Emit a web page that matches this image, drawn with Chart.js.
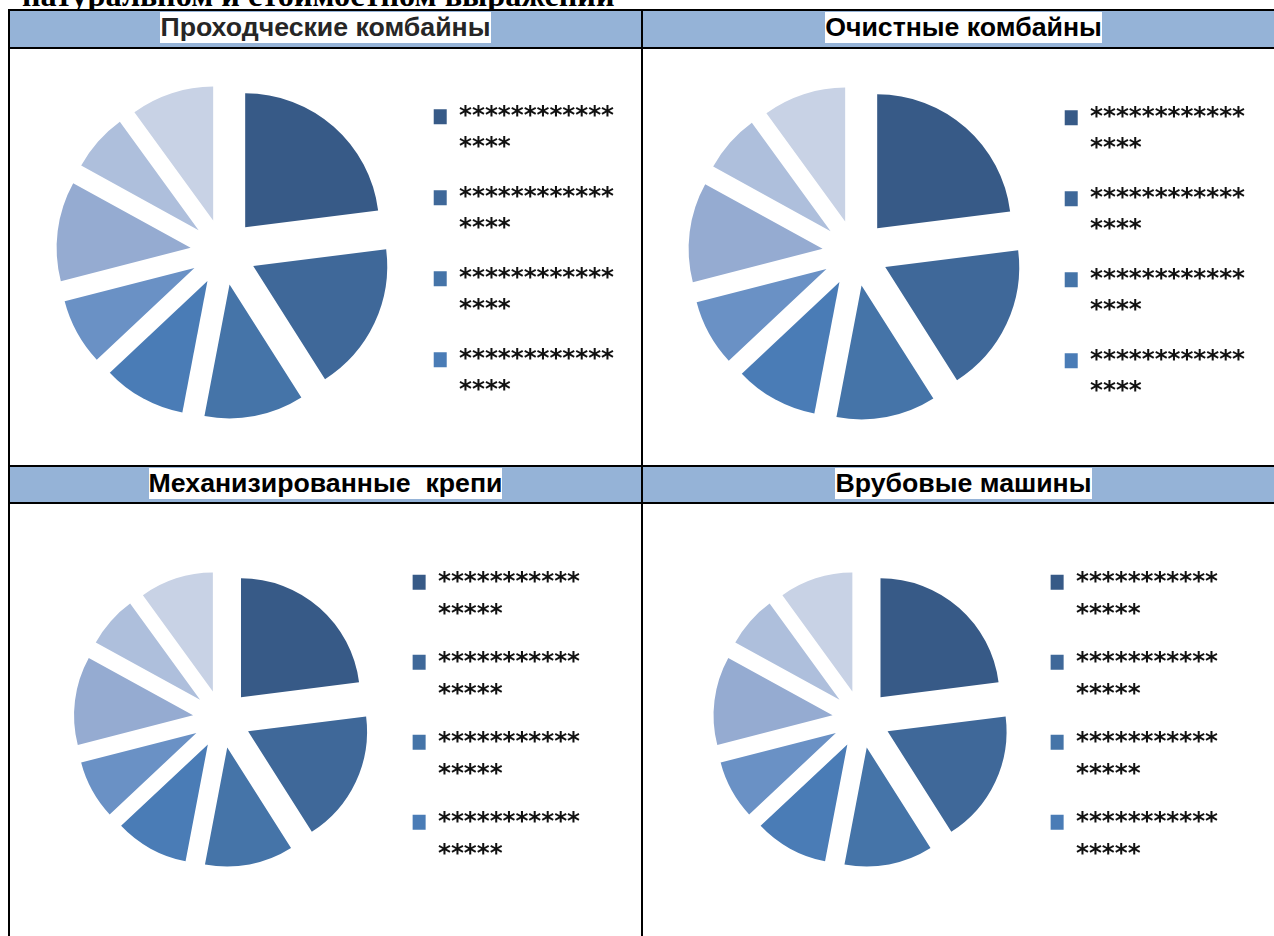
<!DOCTYPE html>
<html><head><meta charset="utf-8">
<script src="https://cdn.jsdelivr.net/npm/chart.js@4.4.1/dist/chart.umd.min.js"></script>
<style>
html,body{margin:0;padding:0;background:#fff;width:1274px;height:936px;overflow:hidden;position:relative;}
.line{position:absolute;background:#000;}
.hdr{position:absolute;background:#95B3D7;display:flex;align-items:center;justify-content:center;box-sizing:border-box;padding-bottom:3px;}
.hdr span{font:bold 26.7px "Liberation Sans",Arial,sans-serif;background:#fff;color:#000;white-space:pre;}
.toptext{position:absolute;left:22px;top:-21px;font:bold 32.3px "Liberation Serif","Times New Roman",serif;line-height:32px;white-space:nowrap;color:#000;}
.cv{position:absolute;}
</style></head><body>
<div class="toptext">натуральном и стоимостном выражении</div>

<div class="hdr" style="left:10px;top:11px;width:631px;height:36px;"><span style="color:#262626">Проходческие комбайны</span></div>
<div class="hdr" style="left:643px;top:11px;width:641px;height:36px;"><span>Очистные комбайны</span></div>
<div class="hdr" style="left:10px;top:467px;width:631px;height:35px;"><span>Механизированные  крепи</span></div>
<div class="hdr" style="left:643px;top:467px;width:641px;height:35px;"><span>Врубовые машины</span></div>

<div class="line" style="left:8px;top:9px;width:1290px;height:2px;"></div>
<div class="line" style="left:8px;top:47px;width:1290px;height:2px;"></div>
<div class="line" style="left:8px;top:465px;width:1290px;height:2px;"></div>
<div class="line" style="left:8px;top:502px;width:1290px;height:2px;"></div>
<div class="line" style="left:8px;top:9px;width:2px;height:940px;"></div>
<div class="line" style="left:641px;top:9px;width:2px;height:940px;"></div>

<canvas id="c1" class="cv" width="614" height="406" style="left:10px;top:49px;"></canvas>
<canvas id="c2" class="cv" width="612" height="408" style="left:643px;top:49px;"></canvas>
<canvas id="c3" class="cv" width="580" height="430" style="left:10px;top:504px;"></canvas>
<canvas id="c4" class="cv" width="585" height="430" style="left:643px;top:504px;"></canvas>

<script>
// ---- data ----
const categoriesTop = [
  ['************','****'], ['************','****'], ['************','****'], ['************','****'],
  ['************','****'], ['************','****'], ['************','****'], ['************','****']
];
const categoriesBottom = [
  ['***********','*****'], ['***********','*****'], ['***********','*****'], ['***********','*****'],
  ['***********','*****'], ['***********','*****'], ['***********','*****'], ['***********','*****']
];
const valuesProkhod = [23, 18, 12, 10, 8, 12, 7, 10];
const valuesOchist  = [23, 18, 12, 10, 8, 12, 7, 10];
const valuesKrepi   = [23, 18, 12, 10, 8, 12, 7, 10];
const valuesVrub    = [23, 18, 12, 10, 8, 12, 7, 10];
const legendCount = 4;

// ---- styles ----
const sliceColors = ['#375A87','#3F6899','#4574A8','#4A7CB6','#6A91C5','#95ABD1','#AEBFDC','#C8D2E5'];

// exploded slices: move every arc outward along its mid angle by the same distance
const explodePlugin = {
  id: 'explode',
  beforeDatasetDraw(chart, args, opts) {
    const d = opts.distance || 0;
    args.meta.data.forEach(arc => {
      const mid = (arc.startAngle + arc.endAngle) / 2;
      arc._ox = arc.x; arc._oy = arc.y;
      arc.x = arc._ox + Math.cos(mid) * d;
      arc.y = arc._oy + Math.sin(mid) * d;
    });
  },
  afterDatasetDraw(chart, args) {
    args.meta.data.forEach(arc => { arc.x = arc._ox; arc.y = arc._oy; });
  }
};

function makePie(id, labels, values, o) {
  return new Chart(document.getElementById(id), {
    type: 'pie',
    plugins: [explodePlugin],
    data: {
      labels: labels,
      datasets: [{ data: values, backgroundColor: sliceColors, borderWidth: 0 }]
    },
    options: {
      responsive: false, animation: false, events: [],
      radius: o.radius,
      layout: { padding: { left: o.padL, right: 0, top: 0, bottom: 0 } },
      plugins: {
        explode: { distance: o.explode },
        tooltip: { enabled: false },
        legend: {
          position: 'right', align: 'center',
          title: { display: true, text: '', padding: 0, font: { size: o.titleH, lineHeight: 1 } },
          labels: {
            filter: (item) => item.index < legendCount,
            boxWidth: 13, boxHeight: 15,
            padding: o.pad,
            color: '#111',
            font: { family: 'DejaVu Sans', weight: 'bold', size: 24.7, lineHeight: o.lh + 'px' }
          }
        }
      }
    }
  });
}

makePie('c1', categoriesTop, valuesProkhod, { radius: 134, explode: 33, padL: 22, pad: 19, lh: 31, titleH: 10 });
makePie('c2', categoriesTop, valuesOchist,  { radius: 134, explode: 33, padL: 22, pad: 19, lh: 31, titleH: 10 });
makePie('c3', categoriesBottom, valuesKrepi, { radius: 119, explode: 29, padL: 37, pad: 16, lh: 32, titleH: 6 });
makePie('c4', categoriesBottom, valuesVrub,  { radius: 119, explode: 29, padL: 45, pad: 16, lh: 32, titleH: 6 });
</script>
</body></html>
